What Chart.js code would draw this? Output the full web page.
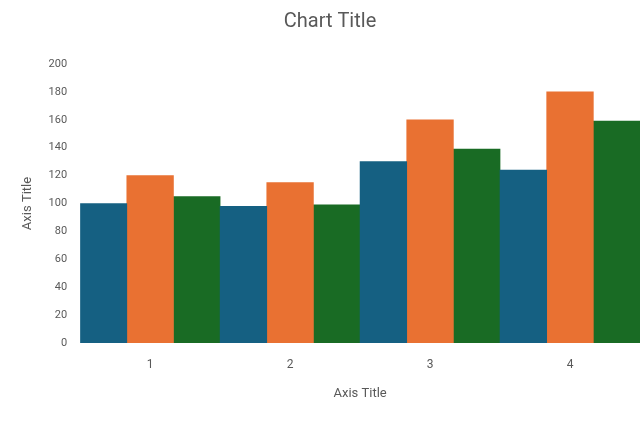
<!doctype html>
<html>
	<head>
		<meta charset="UTF-8" />
		<meta name="viewport" content="width=device-width, initial-scale=1.0" />
		<style type="text/css">
			html, body {margin: 0; padding: 0; background: #fff;}
			.chartBox {width: 643px; height: 427px;}
		</style>
	</head>
	<body>
		<div class="chartBox">
			<canvas id="barChart"></canvas>
		</div>
		<script src="https://cdn.jsdelivr.net/npm/chart.js"></script>
		<script>
			const categories = ['1', '2', '3', '4'];
			const series1 = [100, 98, 130, 124];
			const series2 = [120, 115, 160, 180];
			const series3 = [105, 99, 139, 159];

			const labelFont = "'Roboto', sans-serif";
			const grey = '#595959';

			const data = {
				labels: categories,
				datasets: [
					{label: 'Series1', data: series1, backgroundColor: '#156082'},
					{label: 'Series2', data: series2, backgroundColor: '#E97132'},
					{label: 'Series3', data: series3, backgroundColor: '#196B24'}
				]
			};

			// config block
			const config = {
				type: 'bar',
				data,
				options: {
					responsive: false,
					animation: false,
					layout: {padding: {left: 20, right: 3, top: 10, bottom: 21}},
					datasets: {bar: {barPercentage: 1, categoryPercentage: 1}},
					plugins: {
						legend: {display: false},
						tooltip: {enabled: false},
						title: {
							display: true,
							text: 'Chart Title',
							color: grey,
							font: {family: labelFont, size: 20, weight: 'normal'},
							padding: {top: 0, bottom: 30}
						}
					},
					scales: {
						x: {
							grid: {display: false},
							border: {display: false},
							ticks: {color: grey, font: {family: labelFont, size: 12}, padding: 7},
							title: {
								display: true,
								text: 'Axis Title',
								color: grey,
								font: {family: labelFont, size: 13},
								padding: {top: 7}
							}
						},
						y: {
							min: 0,
							max: 200,
							grid: {display: false, drawTicks: false},
							border: {display: false},
							ticks: {stepSize: 20, color: grey, font: {family: labelFont, size: 11}, padding: 13},
							title: {
								display: true,
								text: 'Axis Title',
								color: grey,
								font: {family: labelFont, size: 13},
								padding: {top: 0, bottom: 0}
							}
						}
					}
				}
			};

			const canvas = document.getElementById('barChart');
			canvas.width = 643;
			canvas.height = 427;
			const barChart = new Chart(canvas, config);
		</script>
	</body>
</html>
